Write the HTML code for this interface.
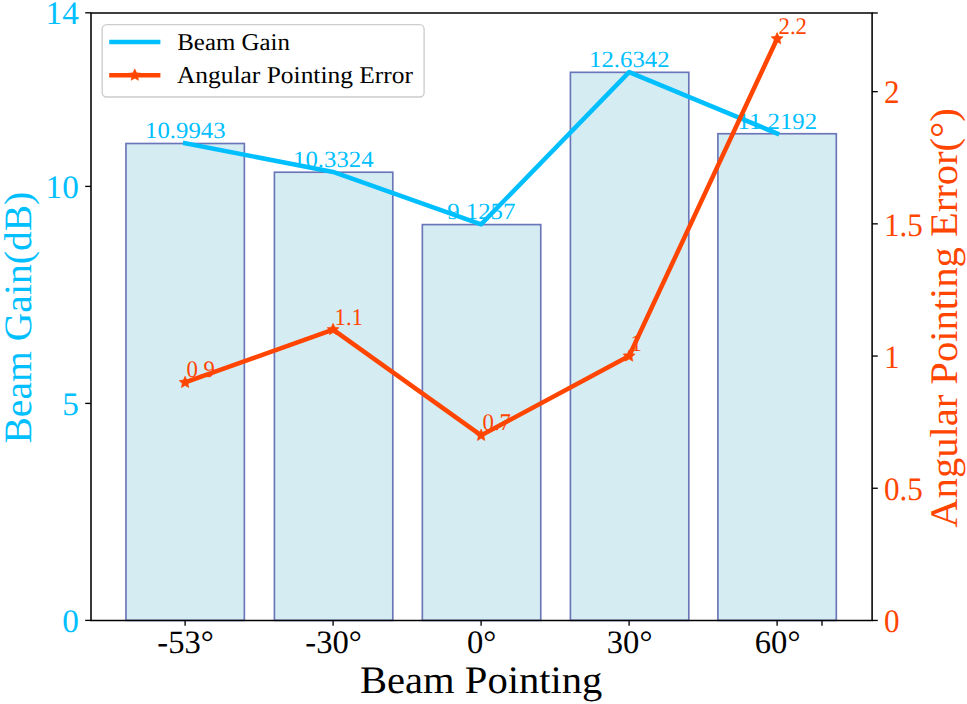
<!DOCTYPE html>
<html><head><meta charset="utf-8"><style>
html,body{margin:0;padding:0;background:#fff;}
body{width:967px;height:704px;overflow:hidden;}
svg{display:block;font-family:"Liberation Serif", serif;text-rendering:geometricPrecision;}
</style></head><body>
<svg width="967" height="704" viewBox="0 0 967 704">
<rect x="0" y="0" width="967" height="704" fill="#fff"/>
<rect x="125.95" y="143.50" width="118.40" height="476.90" fill="#D6ECF3" stroke="#6B76B9" stroke-width="1.67"/>
<rect x="274.40" y="172.22" width="118.40" height="448.18" fill="#D6ECF3" stroke="#6B76B9" stroke-width="1.67"/>
<rect x="422.35" y="224.59" width="118.40" height="395.81" fill="#D6ECF3" stroke="#6B76B9" stroke-width="1.67"/>
<rect x="570.40" y="72.33" width="118.40" height="548.07" fill="#D6ECF3" stroke="#6B76B9" stroke-width="1.67"/>
<rect x="717.90" y="133.74" width="118.40" height="486.66" fill="#D6ECF3" stroke="#6B76B9" stroke-width="1.67"/>
<polyline points="185.10,143.25 333.10,171.97 481.10,224.34 629.10,72.08 777.10,133.49" fill="none" stroke="#00BFFF" stroke-width="4.5" stroke-linejoin="round" stroke-linecap="square"/>
<text id="ab0" transform="translate(185.28,138.35) scale(1.0682,1)" font-size="23.21" fill="#00BFFF" text-anchor="middle">10.9943</text>
<text id="ab1" transform="translate(333.28,167.07) scale(1.0682,1)" font-size="23.21" fill="#00BFFF" text-anchor="middle">10.3324</text>
<text id="ab2" transform="translate(481.28,219.44) scale(1.0682,1)" font-size="23.21" fill="#00BFFF" text-anchor="middle">9.1257</text>
<text id="ab3" transform="translate(629.28,67.18) scale(1.0682,1)" font-size="23.21" fill="#00BFFF" text-anchor="middle">12.6342</text>
<text id="ab4" transform="translate(777.28,128.59) scale(1.0682,1)" font-size="23.21" fill="#00BFFF" text-anchor="middle">11.2192</text>
<text id="ao0" transform="translate(186.51,377.41) scale(0.9546,1)" font-size="23.88" fill="#FF4500" text-anchor="start">0.9</text>
<text id="ao1" transform="translate(334.51,324.53) scale(0.9546,1)" font-size="23.88" fill="#FF4500" text-anchor="start">1.1</text>
<text id="ao2" transform="translate(482.51,430.29) scale(0.9546,1)" font-size="23.88" fill="#FF4500" text-anchor="start">0.7</text>
<text id="ao3" transform="translate(630.51,350.97) scale(0.9546,1)" font-size="23.88" fill="#FF4500" text-anchor="start">1</text>
<text id="ao4" transform="translate(778.51,33.69) scale(0.9546,1)" font-size="23.88" fill="#FF4500" text-anchor="start">2.2</text>
<polyline points="185.10,382.49 333.10,329.61 481.10,435.37 629.10,356.05 777.10,38.77" fill="none" stroke="#FF4500" stroke-width="4.5" stroke-linejoin="round" stroke-linecap="square"/>
<polygon points="185.10,376.19 186.84,380.09 191.09,380.54 187.92,383.40 188.80,387.59 185.10,385.45 181.40,387.59 182.28,383.40 179.11,380.54 183.36,380.09" fill="#FF4500" stroke="#FF4500" stroke-width="0.6" stroke-linejoin="miter" stroke-miterlimit="4"/>
<polygon points="333.10,323.31 334.84,327.21 339.09,327.66 335.92,330.52 336.80,334.71 333.10,332.57 329.40,334.71 330.28,330.52 327.11,327.66 331.36,327.21" fill="#FF4500" stroke="#FF4500" stroke-width="0.6" stroke-linejoin="miter" stroke-miterlimit="4"/>
<polygon points="481.10,429.07 482.84,432.97 487.09,433.42 483.92,436.28 484.80,440.47 481.10,438.33 477.40,440.47 478.28,436.28 475.11,433.42 479.36,432.97" fill="#FF4500" stroke="#FF4500" stroke-width="0.6" stroke-linejoin="miter" stroke-miterlimit="4"/>
<polygon points="629.10,349.75 630.84,353.65 635.09,354.10 631.92,356.96 632.80,361.15 629.10,359.01 625.40,361.15 626.28,356.96 623.11,354.10 627.36,353.65" fill="#FF4500" stroke="#FF4500" stroke-width="0.6" stroke-linejoin="miter" stroke-miterlimit="4"/>
<polygon points="777.10,32.47 778.84,36.37 783.09,36.82 779.92,39.68 780.80,43.87 777.10,41.73 773.40,43.87 774.28,39.68 771.11,36.82 775.36,36.37" fill="#FF4500" stroke="#FF4500" stroke-width="0.6" stroke-linejoin="miter" stroke-miterlimit="4"/>
<path d="M91.0,13.0 L872.1,13.0 L872.1,620.4 L91.0,620.4 Z" stroke="#000" stroke-width="1.55" fill="none" stroke-linecap="square"/>
<g stroke="#000" stroke-width="1.33" fill="none">
<line x1="85.2" y1="620.40" x2="91.0" y2="620.40"/>
<line x1="85.2" y1="403.40" x2="91.0" y2="403.40"/>
<line x1="85.2" y1="186.40" x2="91.0" y2="186.40"/>
<line x1="85.2" y1="12.80" x2="91.0" y2="12.80"/>
<line x1="872.0" y1="620.45" x2="877.8" y2="620.45"/>
<line x1="872.0" y1="488.25" x2="877.8" y2="488.25"/>
<line x1="872.0" y1="356.05" x2="877.8" y2="356.05"/>
<line x1="872.0" y1="223.85" x2="877.8" y2="223.85"/>
<line x1="872.0" y1="91.65" x2="877.8" y2="91.65"/>
<line x1="872.0" y1="12.99" x2="877.8" y2="12.99"/>
<line x1="185.10" y1="620.0" x2="185.10" y2="625.8"/>
<line x1="333.10" y1="620.0" x2="333.10" y2="625.8"/>
<line x1="481.10" y1="620.0" x2="481.10" y2="625.8"/>
<line x1="629.10" y1="620.0" x2="629.10" y2="625.8"/>
<line x1="777.10" y1="620.0" x2="777.10" y2="625.8"/>
<line x1="822" y1="620.0" x2="822" y2="625.8"/>
</g>
<text id="lt0" transform="translate(78.87,631.70) scale(1.0128,1)" font-size="32.86" fill="#00BFFF" text-anchor="end">0</text>
<text id="lt5" transform="translate(78.87,414.70) scale(1.0128,1)" font-size="32.86" fill="#00BFFF" text-anchor="end">5</text>
<text id="lt10" transform="translate(78.87,197.70) scale(1.0128,1)" font-size="32.86" fill="#00BFFF" text-anchor="end">10</text>
<text id="lt14" transform="translate(78.87,24.10) scale(1.0128,1)" font-size="32.86" fill="#00BFFF" text-anchor="end">14</text>
<text id="rt0" transform="translate(883.99,632.10) scale(0.9478,1)" font-size="32.77" fill="#FF4500" text-anchor="start">0</text>
<text id="rt0.5" transform="translate(883.99,499.90) scale(0.9478,1)" font-size="32.77" fill="#FF4500" text-anchor="start">0.5</text>
<text id="rt1" transform="translate(883.99,367.70) scale(0.9478,1)" font-size="32.77" fill="#FF4500" text-anchor="start">1</text>
<text id="rt1.5" transform="translate(883.99,235.50) scale(0.9478,1)" font-size="32.77" fill="#FF4500" text-anchor="start">1.5</text>
<text id="rt2" transform="translate(883.99,103.30) scale(0.9478,1)" font-size="32.77" fill="#FF4500" text-anchor="start">2</text>
<text id="xt0" transform="translate(185.61,653.11) scale(1.0011,1)" font-size="32.60" fill="#000" text-anchor="middle">-53°</text>
<text id="xt1" transform="translate(333.61,653.11) scale(1.0011,1)" font-size="32.60" fill="#000" text-anchor="middle">-30°</text>
<text id="xt2" transform="translate(481.61,653.11) scale(1.0011,1)" font-size="32.60" fill="#000" text-anchor="middle">0°</text>
<text id="xt3" transform="translate(629.61,653.11) scale(1.0011,1)" font-size="32.60" fill="#000" text-anchor="middle">30°</text>
<text id="xt4" transform="translate(777.61,653.11) scale(1.0011,1)" font-size="32.60" fill="#000" text-anchor="middle">60°</text>
<text id="xlabel" transform="translate(481.18,692.90) scale(1.0437,1)" font-size="38.90" fill="#000" text-anchor="middle">Beam Pointing</text>
<text id="ylabL" transform="translate(30.80,317.65) rotate(-90) scale(1.0185,1)" font-size="38.90" fill="#00BFFF" text-anchor="middle">Beam Gain(dB)</text>
<text id="ylabR" transform="translate(956.90,317.94) rotate(-90) scale(1.0430,1)" font-size="38.90" fill="#FF4500" text-anchor="middle">Angular Pointing Error(°)</text>
<rect x="102.2" y="24.6" width="321.9" height="72.4" rx="4.5" ry="4.5" fill="#fff" fill-opacity="0.8" stroke="#CCCCCC" stroke-width="1.33"/>
<line x1="109.2" y1="42.0" x2="160.4" y2="42.0" stroke="#00BFFF" stroke-width="4.5"/>
<line x1="109.2" y1="75.2" x2="160.4" y2="75.2" stroke="#FF4500" stroke-width="4.5"/>
<polygon points="134.80,68.90 136.54,72.80 140.79,73.25 137.62,76.11 138.50,80.30 134.80,78.16 131.10,80.30 131.98,76.11 128.81,73.25 133.06,72.80" fill="#FF4500" stroke="#FF4500" stroke-width="0.6" stroke-linejoin="miter" stroke-miterlimit="4"/>
<text id="leg1" transform="translate(177.28,49.80) scale(1.0320,1)" font-size="24.10" fill="#000" text-anchor="start">Beam Gain</text>
<text id="leg2" transform="translate(176.90,83.10) scale(1.0565,1)" font-size="24.10" fill="#000" text-anchor="start">Angular Pointing Error</text>
</svg>
</body></html>
